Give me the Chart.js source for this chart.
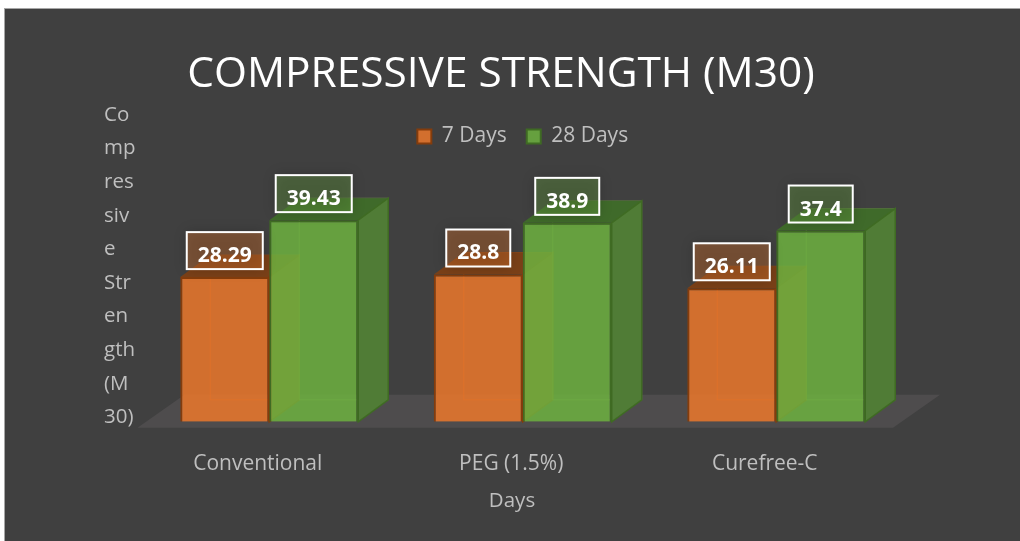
<!DOCTYPE html>
<html>
<head>
<meta charset="utf-8">
<title>Compressive strength (M30)</title>
<script src="https://cdn.jsdelivr.net/npm/chart.js@4/dist/chart.umd.min.js"></script>
<style>
  html, body { margin: 0; padding: 0; background: #ffffff; }
  #wrap { width: 1020px; height: 541px; }
</style>
</head>
<body>
<div id="wrap"><canvas id="graphic" width="1020" height="541"></canvas></div>
<script>
const categories = ["Conventional", "PEG (1.5%)", "Curefree-C"];
const days7 = [28.29, 28.8, 26.11];
const days28 = [39.43, 38.9, 37.4];
const yTitleLines = ["Co", "mp", "res", "siv", "e", "Str", "en", "gth", "(M", "30)"];

const FONT = "'Open Sans', sans-serif";
const TEXT = "#bfbfbf";
const DEPTH_X = 30;
const DEPTH_Y = 22;

const faces = [
  { top: "#7a4018", side: "#8f4e1e", line: "rgba(150,75,25,0.9)", label: "rgba(237,125,49,0.34)" },
  { top: "#3f6a2a", side: "#507c36", line: "rgba(150,190,90,0.4)", label: "rgba(112,173,71,0.34)" },
];

function poly(ctx, pts, fill, stroke) {
  ctx.beginPath();
  pts.forEach((p, i) => (i ? ctx.lineTo(p[0], p[1]) : ctx.moveTo(p[0], p[1])));
  ctx.closePath();
  ctx.fillStyle = fill;
  ctx.fill();
  if (stroke) {
    ctx.strokeStyle = stroke;
    ctx.lineWidth = 1.5;
    ctx.stroke();
  }
}

const box3d = {
  id: "box3d",
  beforeDraw(chart) {
    const ctx = chart.ctx;
    ctx.save();
    ctx.fillStyle = "#404040";
    ctx.fillRect(5, 9, chart.width - 5, chart.height - 9);
    ctx.strokeStyle = "#a6a6a6";
    ctx.lineWidth = 1;
    ctx.strokeRect(4.5, 8.5, chart.width, chart.height);
    ctx.restore();
  },
  // floor and the back, top and side faces go under the library's front faces
  beforeDatasetsDraw(chart) {
    const ctx = chart.ctx;
    const a = chart.chartArea;
    const base = chart.scales.y.getPixelForValue(0);
    poly(ctx, [
      [a.left - 5, base + 6],
      [a.right - 10, base + 6],
      [a.right + 37, base - 27],
      [a.left + 42, base - 27],
    ], "#4e4c4d");
    ctx.save();
    chart.data.datasets.forEach((ds, i) => {
      const f = faces[i];
      chart.getDatasetMeta(i).data.forEach((bar) => {
        const l = bar.x - bar.width / 2;
        const r = bar.x + bar.width / 2;
        const t = bar.y;
        const b = bar.base;
        ctx.strokeStyle = f.line;
        ctx.lineWidth = 1;
        ctx.strokeRect(l + DEPTH_X, t - DEPTH_Y, bar.width, b - t);
        poly(ctx, [[l, t], [r, t], [r + DEPTH_X, t - DEPTH_Y], [l + DEPTH_X, t - DEPTH_Y]], f.top);
        poly(ctx, [[r, t], [r + DEPTH_X, t - DEPTH_Y], [r + DEPTH_X, b - DEPTH_Y], [r, b]], f.side, ds.borderColor);
      });
    });
    ctx.restore();
  },
  afterDatasetsDraw(chart) {
    const ctx = chart.ctx;
    ctx.save();
    ctx.font = "bold 21px " + FONT;
    ctx.textAlign = "center";
    ctx.textBaseline = "middle";
    chart.data.datasets.forEach((ds, i) => {
      chart.getDatasetMeta(i).data.forEach((bar, j) => {
        const text = String(ds.data[j]);
        const w = ctx.measureText(text).width + 22;
        const h = 37;
        const x = bar.x - w / 2;
        const y = bar.y - 8 - h;
        ctx.shadowColor = "rgba(0,0,0,0.6)";
        ctx.shadowBlur = 12;
        ctx.fillStyle = faces[i].label;
        ctx.fillRect(x, y, w, h);
        ctx.shadowColor = "transparent";
        ctx.strokeStyle = "#ffffff";
        ctx.lineWidth = 2;
        ctx.strokeRect(x, y, w, h);
        ctx.fillStyle = "#ffffff";
        ctx.fillText(text, bar.x, y + 24);
      });
    });
    ctx.restore();
  },
  afterDraw(chart) {
    const ctx = chart.ctx;
    ctx.save();
    ctx.font = "20.5px " + FONT;
    ctx.fillStyle = TEXT;
    ctx.textBaseline = "middle";
    ctx.textAlign = "left";
    yTitleLines.forEach((line, i) => ctx.fillText(line, 104, 115 + i * 33.6));
    ctx.textAlign = "center";
    ctx.fillText("Days", 512, 501);
    ctx.restore();
  },
};

new Chart(document.getElementById("graphic"), {
  type: "bar",
  data: {
    labels: categories,
    datasets: [
      {
        label: "7 Days",
        data: days7,
        backgroundColor: "rgba(236,120,44,0.85)",
        borderColor: "#843c0c",
        borderWidth: 2,
        categoryPercentage: 0.702,
        barPercentage: 1,
      },
      {
        label: "28 Days",
        data: days28,
        backgroundColor: "rgba(109,177,64,0.85)",
        borderColor: "#3f6b23",
        borderWidth: 2,
        categoryPercentage: 0.702,
        barPercentage: 1,
      },
    ],
  },
  plugins: [box3d],
  options: {
    responsive: false,
    animation: false,
    layout: { padding: { left: 99, right: 117, top: 49, bottom: 42 } },
    plugins: {
      tooltip: { enabled: false },
      title: {
        display: true,
        text: "COMPRESSIVE STRENGTH (M30)",
        color: "#ffffff",
        font: { family: FONT, size: 42.4, weight: "normal" },
        padding: { top: 0, bottom: 6 },
      },
      legend: {
        position: "top",
        fullSize: false,
        labels: {
          color: TEXT,
          font: { family: FONT, size: 21 },
          boxWidth: 14,
          boxHeight: 14,
          padding: 20,
        },
      },
    },
    scales: {
      x: {
        grid: { display: false },
        border: { display: false },
        ticks: {
          color: TEXT,
          font: { family: FONT, size: 21 },
          padding: 22,
          labelOffset: -11.5,
          maxRotation: 0,
        },
      },
      y: {
        min: 0,
        max: 51.8,
        grid: { display: false },
        border: { display: false },
        ticks: { display: false },
        afterFit(scale) {
          scale.width = 43.5;
        },
      },
    },
  },
});
</script>
</body>
</html>
